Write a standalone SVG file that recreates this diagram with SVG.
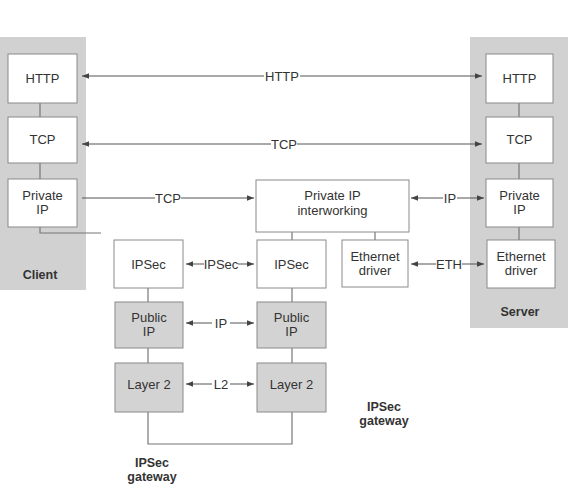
<svg xmlns="http://www.w3.org/2000/svg" width="573" height="488" viewBox="0 0 573 488">
<defs>
<marker id="ah" viewBox="0 0 10 10" refX="10" refY="5" markerWidth="7" markerHeight="7" orient="auto-start-reverse" markerUnits="userSpaceOnUse">
<path d="M0,1 L10,5 L0,9 z" fill="#444"/>
</marker>
<style>
.panel{fill:#d1d1d1}
.box{fill:#fff;stroke:#8a8a8a;stroke-width:1}
.gbox{fill:#d3d3d3;stroke:#8a8a8a;stroke-width:1}
.t{font-family:"Liberation Sans",Arial,sans-serif;font-size:13px;fill:#333;text-anchor:middle}
.b{font-family:"Liberation Sans",Arial,sans-serif;font-size:12.5px;font-weight:bold;fill:#333;text-anchor:middle}
.ln{stroke:#777;stroke-width:1.2;fill:none}
.ar{stroke:#555;stroke-width:1.2;fill:none;marker-start:url(#ah);marker-end:url(#ah)}
.lbg{fill:#fff}
</style>
</defs>
<rect width="573" height="488" fill="#fff"/>
<g id="client">
<rect class="panel" x="0" y="37" width="86" height="253"/>
<text class="b" x="40" y="279">Client</text>
</g>
<g id="server">
<rect class="panel" x="470" y="37" width="98" height="291"/>
<text class="b" x="520" y="316">Server</text>
</g>
<g id="connectors">
<path class="ln" d="M40,103V117M40,163V179M519,103V117M519,163V179M519,227V240"/>
<path class="ln" d="M40,227V233H101" stroke="#8a7d8a"/>
<path class="ln" d="M292,232V240M375,232V240M148,288V302M292,288V302M148,348V363M292,348V363M148,412V444H292V412"/>
<path class="ar" d="M82,76H482"/>
<path class="ar" d="M82,144H482"/>
<path class="ar" d="M82,198H254" style="marker-start:none"/>
<path class="ar" d="M411,198H484"/>
<path class="ar" d="M186,264H254"/>
<path class="ar" d="M411,264H484"/>
<path class="ar" d="M186,323H254"/>
<path class="ar" d="M186,384H254"/>
<rect class="lbg" x="264" y="69" width="36" height="14"/>
<text class="t" x="282" y="81">HTTP</text>
<rect class="lbg" x="271" y="137" width="26" height="14"/>
<text class="t" x="284" y="149">TCP</text>
<rect class="lbg" x="155" y="191" width="26" height="14"/>
<text class="t" x="168" y="203">TCP</text>
<rect class="lbg" x="443" y="191" width="14" height="14"/>
<text class="t" x="450" y="203">IP</text>
<rect class="lbg" x="204" y="257" width="34" height="14"/>
<text class="t" x="221" y="269">IPSec</text>
<rect class="lbg" x="436" y="257" width="26" height="14"/>
<text class="t" x="449" y="269">ETH</text>
<rect class="lbg" x="212" y="316" width="18" height="14"/>
<text class="t" x="221" y="328">IP</text>
<rect class="lbg" x="212" y="377" width="18" height="14"/>
<text class="t" x="221" y="389">L2</text>
</g>
<g id="c_http"><rect class="box" x="8" y="54" width="69" height="49"/><text class="t" x="42.5" y="83">HTTP</text></g>
<g id="c_tcp"><rect class="box" x="8" y="117" width="69" height="46"/><text class="t" x="42.5" y="144">TCP</text></g>
<g id="c_pip"><rect class="box" x="8" y="179" width="69" height="48"/><text class="t" x="42.5" y="200">Private</text><text class="t" x="42.5" y="214">IP</text></g>
<g id="s_http"><rect class="box" x="486" y="54" width="67" height="49"/><text class="t" x="519.5" y="83">HTTP</text></g>
<g id="s_tcp"><rect class="box" x="486" y="117" width="67" height="46"/><text class="t" x="519.5" y="144">TCP</text></g>
<g id="s_pip"><rect class="box" x="486" y="179" width="67" height="48"/><text class="t" x="519.5" y="200">Private</text><text class="t" x="519.5" y="214">IP</text></g>
<g id="s_eth"><rect class="box" x="487" y="240" width="68" height="48"/><text class="t" x="521" y="261">Ethernet</text><text class="t" x="521" y="275">driver</text></g>
<g id="interworking"><rect class="box" x="256" y="180" width="153" height="52"/><text class="t" x="332.5" y="200">Private IP</text><text class="t" x="332.5" y="215">interworking</text></g>
<g id="ipsec_l"><rect class="box" x="114" y="240" width="69" height="48"/><text class="t" x="148.5" y="269">IPSec</text></g>
<g id="ipsec_r"><rect class="box" x="257" y="240" width="69" height="48"/><text class="t" x="291.5" y="269">IPSec</text></g>
<g id="gw_eth"><rect class="box" x="342" y="240" width="66" height="47"/><text class="t" x="375" y="261">Ethernet</text><text class="t" x="375" y="275">driver</text></g>
<g id="pub_l"><rect class="gbox" x="115" y="302" width="68" height="46"/><text class="t" x="149" y="322">Public</text><text class="t" x="149" y="336">IP</text></g>
<g id="pub_r"><rect class="gbox" x="257" y="302" width="69" height="46"/><text class="t" x="291.5" y="322">Public</text><text class="t" x="291.5" y="336">IP</text></g>
<g id="l2_l"><rect class="gbox" x="115" y="363" width="68" height="49"/><text class="t" x="149" y="389">Layer 2</text></g>
<g id="l2_r"><rect class="gbox" x="257" y="363" width="69" height="49"/><text class="t" x="291.5" y="389">Layer 2</text></g>
<g id="gw_left_label"><text class="b" x="152" y="467">IPSec</text><text class="b" x="152" y="481">gateway</text></g>
<g id="gw_right_label"><text class="b" x="384" y="411">IPSec</text><text class="b" x="384" y="425">gateway</text></g>
</svg>
